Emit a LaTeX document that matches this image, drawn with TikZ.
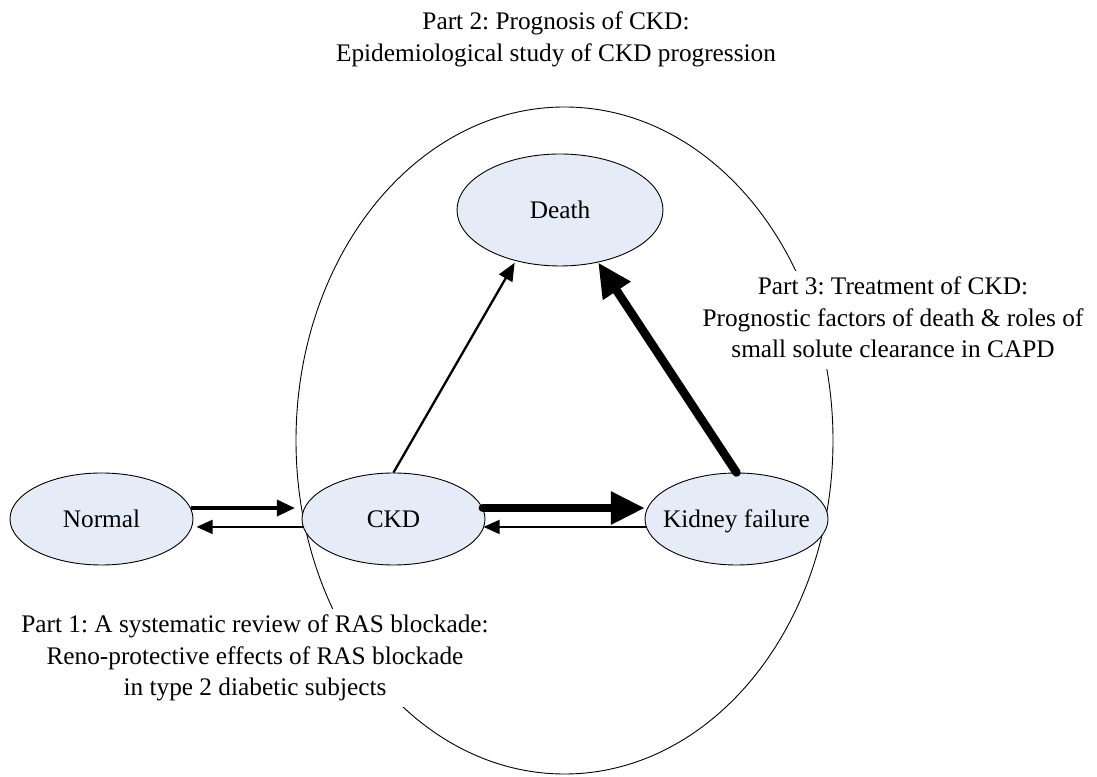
\documentclass[tikz,border=0pt]{standalone}
\usepackage{fontspec}
\setmainfont{Liberation Serif}
\usetikzlibrary{arrows.meta,shapes.geometric}
\definecolor{statefill}{RGB}{230,236,247}
\begin{document}
\frenchspacing
\begin{tikzpicture}[x=1pt,y=1pt,
  txt/.style={font=\fontsize{25.3}{31.5}\selectfont},
  state/.style={txt, ellipse, draw=black, line width=0.9pt, fill=statefill,
    inner xsep=-10pt, inner ysep=0pt, minimum width=183pt, minimum height=92pt,
    text height=17pt, text depth=0pt},
  note/.style={txt, fill=white, inner sep=2pt, align=center},
  thinarrow/.style={line width=1.6pt, -{Triangle[length=16pt,width=14pt]}},
  midarrow/.style={line width=3.5pt, -{Triangle[length=18pt,width=16pt]}},
  slimarrow/.style={line width=2.3pt, -{Triangle[length=18pt,width=15pt]}},
  heavyarrow/.style={line width=8.5pt, line cap=round, -{Triangle[length=34pt,width=31pt]}},
]
\useasboundingbox (0,0) rectangle (1097,776);

% scope of the three-part study
\node[draw, ellipse, line width=0.9pt, inner sep=0pt,
  minimum width=537pt, minimum height=667pt] (study) at (564.5,335.5) {};

% part descriptions
\node[note] (part2) at (556,737)
  {\strut Part 2: Prognosis of CKD:\\\strut Epidemiological study of CKD progression};
\node[note] (part1) at (255,117.8)
  {\strut Part 1: A systematic review of RAS blockade:\\
   \strut Reno-protective effects of RAS blockade\\
   \strut in type 2 diabetic subjects};
\node[note] (part3) at (893,455.8)
  {\strut Part 3: Treatment of CKD:\\
   \strut Prognostic factors of death \& roles of\\
   \strut small solute clearance in CAPD};

% disease states
\node[state, minimum width=206pt, minimum height=112pt] (death) at (560,566) {Death};
\node[state] (normal) at (101.5,257) {Normal};
\node[state] (ckd) at (393.5,257) {CKD};
\node[state] (kf) at (736.5,257) {Kidney failure};

% transitions (horizontal pairs kept level with -|)
\draw[midarrow, shorten >=10pt] (normal.7.74) -- (normal.7.74 -| ckd.172.26);
\draw[thinarrow, shorten >=5pt] (ckd.185.07) -- (ckd.185.07 -| normal.354.93);
\draw[heavyarrow, shorten >=3pt] (ckd.7.74) -- (ckd.7.74 -| kf.172.26);
\draw[thinarrow] (kf.185.07) -- (kf.185.07 -| ckd.354.93);
\draw[slimarrow, shorten >=2pt] (ckd.north) -- (death.229.7);
\draw[heavyarrow] (kf.north) -- (death.306.35);
\end{tikzpicture}
\end{document}
